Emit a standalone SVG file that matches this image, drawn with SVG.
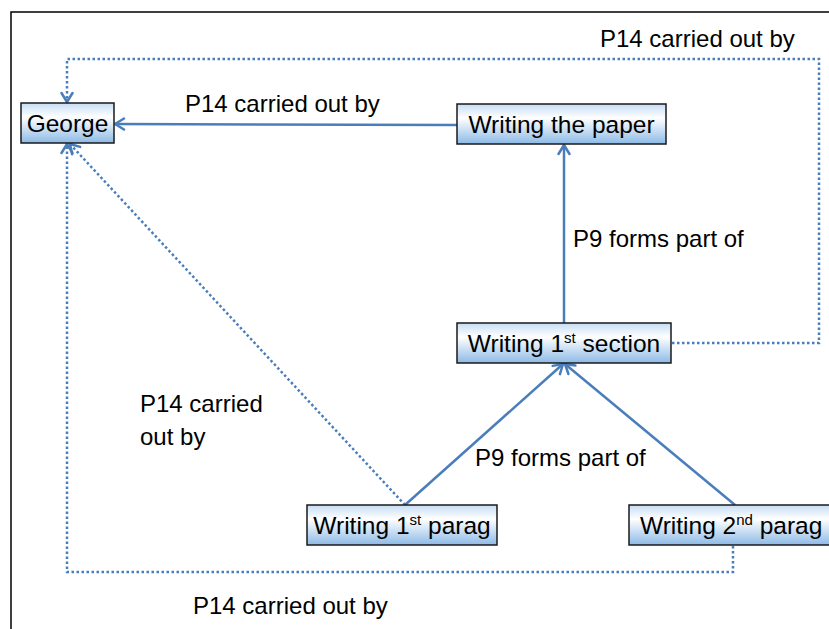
<svg xmlns="http://www.w3.org/2000/svg" width="829" height="629" viewBox="0 0 829 629">
<defs>
<linearGradient id="g" x1="0" y1="0" x2="0" y2="1">
<stop offset="0" stop-color="#c6ddf4"/>
<stop offset="0.35" stop-color="#ffffff"/>
<stop offset="1" stop-color="#8dbae6"/>
</linearGradient>
<marker id="arr" markerWidth="14" markerHeight="14" refX="11" refY="7" orient="auto" markerUnits="userSpaceOnUse">
<path d="M2,1.5 L11,7 L2,12.5" fill="none" stroke="#4a7ebb" stroke-width="2.5" stroke-linecap="round" stroke-linejoin="round"/>
</marker>
</defs>
<style>
.n rect{fill:url(#g);stroke:#1a1a1a;stroke-width:1.5}
.n text{font-family:"Liberation Sans",Arial,sans-serif;font-size:24.5px;fill:#000;text-anchor:middle}
.lbl{font-family:"Liberation Sans",Arial,sans-serif;font-size:24px;fill:#000}
.s{fill:none;stroke:#4a7ebb;stroke-width:2.5}
.d{fill:none;stroke:#4a7ebb;stroke-width:2.5;stroke-dasharray:2.5 2.5}
</style>
<rect x="0" y="0" width="829" height="629" fill="#ffffff"/>
<rect x="11" y="12" width="830" height="630" fill="none" stroke="#000" stroke-width="1.5"/>
<g id="connectors">
<line class="s" x1="457" y1="125" x2="115" y2="124" marker-end="url(#arr)"/>
<line class="s" x1="564" y1="323" x2="564" y2="145" marker-end="url(#arr)"/>
<line class="s" x1="405" y1="505" x2="563" y2="364" marker-end="url(#arr)"/>
<line class="s" x1="735" y1="505" x2="565" y2="364" marker-end="url(#arr)"/>
<polyline class="d" points="672,343 819,343 819,59 67,59 67,102" marker-end="url(#arr)"/>
<line class="d" x1="405" y1="505" x2="70" y2="144" marker-end="url(#arr)"/>
<polyline class="d" points="733,546 733,572 67,572 67,144" marker-end="url(#arr)"/>
</g>
<g id="labels">
<text class="lbl" x="600" y="47">P14 carried out by</text>
<text class="lbl" x="185" y="112">P14 carried out by</text>
<text class="lbl" x="573" y="247">P9 forms part of</text>
<text class="lbl" x="140" y="412">P14 carried</text>
<text class="lbl" x="140" y="445">out by</text>
<text class="lbl" x="475" y="466">P9 forms part of</text>
<text class="lbl" x="193" y="614">P14 carried out by</text>
</g>
<g id="george" class="n"><rect x="21" y="103" width="93" height="40"/><text x="67.5" y="132">George</text></g>
<g id="paper" class="n"><rect x="457" y="104" width="209" height="40"/><text x="561.5" y="133">Writing the paper</text></g>
<g id="section" class="n"><rect x="457" y="323" width="214" height="40"/><text x="564" y="352">Writing 1<tspan font-size="15" dy="-9">st</tspan><tspan dy="9"> section</tspan></text></g>
<g id="parag1" class="n"><rect x="307" y="505" width="190" height="40"/><text x="402" y="534">Writing 1<tspan font-size="15" dy="-9">st</tspan><tspan dy="9"> parag</tspan></text></g>
<g id="parag2" class="n"><rect x="629" y="505" width="210" height="40"/><text x="640" y="534" style="text-anchor:start">Writing 2<tspan font-size="15" dy="-9">nd</tspan><tspan dy="9"> parag</tspan></text></g>
</svg>
